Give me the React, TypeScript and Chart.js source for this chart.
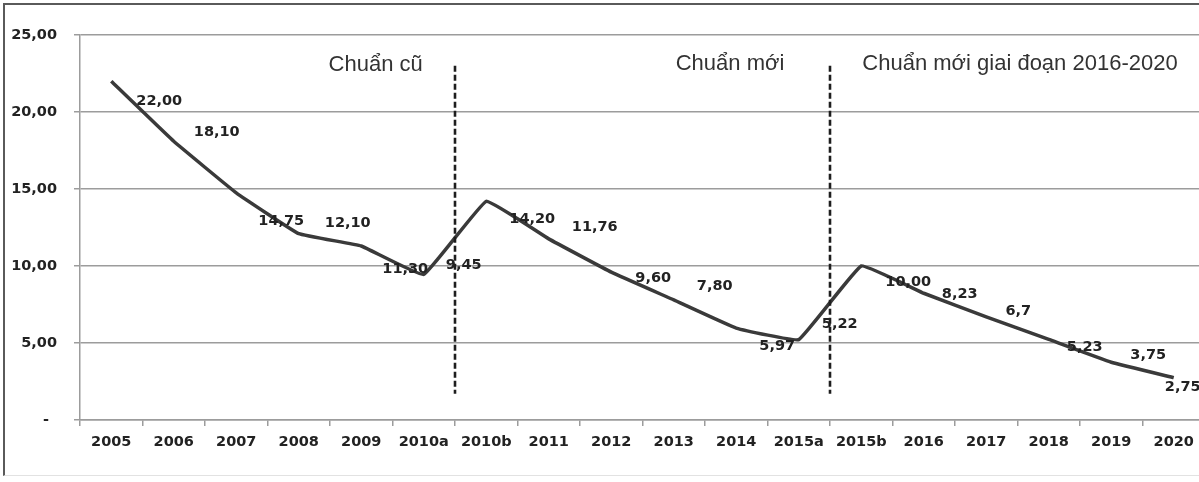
import React, { useEffect, useRef } from "react";
import { Chart, registerables } from "chart.js";

Chart.register(...registerables);

// ---- data ----
const categories = [
  "2005", "2006", "2007", "2008", "2009", "2010a", "2010b", "2011", "2012",
  "2013", "2014", "2015a", "2015b", "2016", "2017", "2018", "2019", "2020",
];
const povertyRate = [
  22.0, 18.1, 14.75, 12.1, 11.3, 9.45, 14.2, 11.76, 9.6, 7.8, 5.97, 5.22,
  10.0, 8.23, 6.7, 5.23, 3.75, 2.75,
];
const valueLabels = [
  "22,00", "18,10", "14,75", "12,10", "11,30", "9,45", "14,20", "11,76", "9,60",
  "7,80", "5,97", "5,22", "10,00", "8,23", "6,7", "5,23", "3,75", "2,75",
];
const yTickValues = [0, 5, 10, 15, 20, 25];
const sectionNames = ["Chuẩn cũ", "Chuẩn mới", "Chuẩn mới giai đoạn 2016-2020"];
// dividers sit between category indices (2010a|2010b and 2015a|2015b)
const sectionDividers = [5.5, 11.5];

// ---- styling / placement (not data) ----
const sectionLabelAt = [
  { x: 4.23, y: 22.66 },
  { x: 9.9, y: 22.75 },
  { x: 14.54, y: 22.75 },
];
const dividerRange = { from: 1.7, to: 23.0 };
const labelOffsets: [number, number][] = [
  [48, 20], [43, -9], [45, 28], [49, -10], [44, 23], [40, -9], [46, 18],
  [46, -12], [42, 6], [41, -14], [41, 18], [41, -15], [47, 16], [36, 1],
  [32, -6], [36, 8], [37, -7], [9, 10],
];

const FONT_FAMILY = "'DejaVu Sans', Verdana, sans-serif";
const BOLD_FONT = "bold 14.5px " + FONT_FAMILY;
const TEXT_COLOR = "#222";
const GRID_COLOR = "#9c9c9c";

const overlayPlugin = {
  id: "overlay",
  afterDatasetsDraw(chart: any) {
    const { ctx, scales } = chart;
    const x = scales.x;
    const y = scales.y;
    ctx.save();
    // dashed section dividers
    ctx.strokeStyle = "#1e1e1e";
    ctx.lineWidth = 2.6;
    ctx.setLineDash([6, 3]);
    for (const d of sectionDividers) {
      const px = Math.round(x.getPixelForValue(d));
      ctx.beginPath();
      ctx.moveTo(px, y.getPixelForValue(dividerRange.to));
      ctx.lineTo(px, y.getPixelForValue(dividerRange.from));
      ctx.stroke();
    }
    ctx.setLineDash([]);
    // section titles
    ctx.font = "22px 'Liberation Sans', Arial, sans-serif";
    ctx.fillStyle = "#333";
    ctx.textAlign = "center";
    ctx.textBaseline = "alphabetic";
    sectionNames.forEach((name, i) => {
      const p = sectionLabelAt[i];
      ctx.fillText(name, x.getPixelForValue(p.x), y.getPixelForValue(p.y));
    });
    // data labels
    const meta = chart.getDatasetMeta(0);
    ctx.font = BOLD_FONT;
    ctx.fillStyle = TEXT_COLOR;
    ctx.textAlign = "center";
    ctx.textBaseline = "middle";
    meta.data.forEach((pt: any, i: number) => {
      const [dx, dy] = labelOffsets[i];
      ctx.fillText(valueLabels[i], pt.x + dx, pt.y + dy);
    });
    ctx.restore();
  },
};

export default function App() {
  const canvasRef = useRef<HTMLCanvasElement | null>(null);

  useEffect(() => {
    document.body.style.margin = "0";
    const canvas = canvasRef.current;
    if (!canvas) return;
    const chart = new Chart(canvas, {
      type: "line",
      data: {
        labels: categories,
        datasets: [
          {
            data: povertyRate,
            borderColor: "#3a3a3a",
            borderWidth: 3.5,
            pointRadius: 0,
            pointHoverRadius: 0,
            tension: 0.08,
            fill: false,
          },
        ],
      },
      options: {
        responsive: false,
        animation: false,
        events: [],
        layout: { padding: { top: 35, right: 5, left: 0, bottom: 0 } },
        plugins: {
          legend: { display: false },
          tooltip: { enabled: false },
          title: { display: false },
        },
        scales: {
          x: {
            type: "category",
            offset: true,
            grid: {
              offset: true,
              display: true,
              drawOnChartArea: false,
              drawTicks: true,
              tickLength: 6,
              color: GRID_COLOR,
              lineWidth: 1.5,
            },
            border: { display: true, color: GRID_COLOR, width: 1.5 },
            ticks: {
              autoSkip: false,
              maxRotation: 0,
              minRotation: 0,
              padding: 8,
              color: TEXT_COLOR,
              font: { family: FONT_FAMILY, size: 14.5, weight: "bold" },
            },
            afterFit(scale: any) {
              scale.height = 62;
            },
          },
          y: {
            min: 0,
            max: 25,
            afterBuildTicks(scale: any) {
              scale.ticks = yTickValues.map((v) => ({ value: v }));
            },
            grid: {
              color: GRID_COLOR,
              lineWidth: 1.5,
              drawTicks: true,
              tickLength: 6,
            },
            border: { display: true, color: GRID_COLOR, width: 1.5 },
            ticks: {
              padding: 17,
              color: TEXT_COLOR,
              font: { family: FONT_FAMILY, size: 14.5, weight: "bold" },
              callback: (v: any) =>
                Number(v) === 0 ? "- \u2009" : Number(v).toFixed(2).replace(".", ","),
            },
            afterFit(scale: any) {
              scale.width = 80;
            },
          },
        },
      },
      plugins: [overlayPlugin],
    });
    return () => chart.destroy();
  }, []);

  return (
    <div
      style={{
        position: "absolute",
        left: 0,
        top: 0,
        width: 1199,
        height: 482,
        overflow: "hidden",
        background: "#fff",
      }}
    >
      <div
        style={{
          position: "absolute",
          left: 3,
          top: 3,
          width: 1300,
          height: 470,
          borderLeft: "2px solid #5a5a5a",
          borderTop: "2px solid #5a5a5a",
          borderBottom: "1px solid #e2e2e2",
        }}
      />
      <canvas
        ref={canvasRef}
        width={1210}
        height={482}
        style={{ position: "absolute", left: 0, top: 0, width: 1210, height: 482 }}
      />
    </div>
  );
}
